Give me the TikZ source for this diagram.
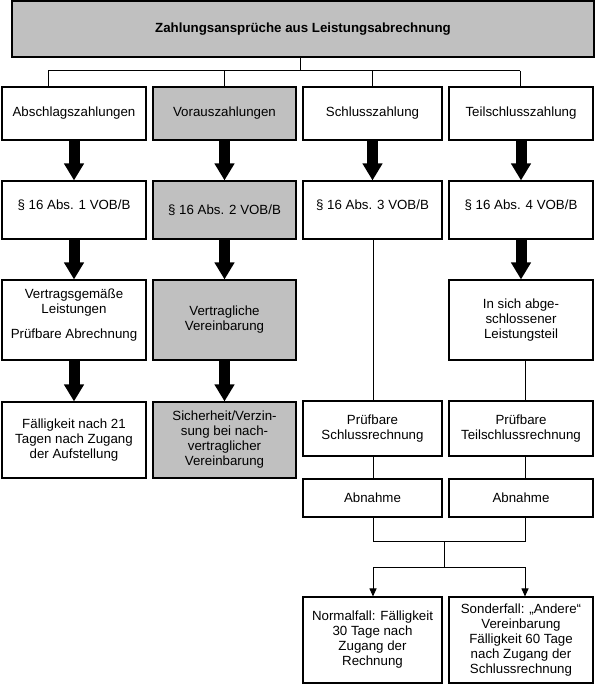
\documentclass[tikz,border=0pt]{standalone}
\usepackage{fontspec}
\setmainfont{Liberation Sans}
\usetikzlibrary{arrows.meta,calc}
\definecolor{boxgray}{RGB}{192,192,192}
\begin{document}
\begin{tikzpicture}[x=1bp,y=-1bp,
  font=\fontsize{13.3bp}{15bp}\selectfont,
  box/.style={draw=black, line width=1.1bp, align=center, inner sep=2bp, fill=white},
  greybox/.style={box, fill=boxgray},
  wA/.style={minimum width=144bp},
  wB/.style={minimum width=143bp},
  wC/.style={minimum width=139bp},
  big/.style={line width=11bp, -{Triangle[width=19bp,length=17bp]}},
  thinline/.style={line width=1bp},
  smalltip/.style={thinline, -{Triangle[width=7bp,length=8bp]}}
]
\useasboundingbox (0,0) rectangle (595,684);

% title
\node[greybox, minimum width=582bp, minimum height=56bp, font=\fontsize{13.3bp}{15bp}\selectfont\bfseries] (title) at (303,29) {Zahlungsansprüche aus Leistungsabrechnung};

% row 1
\node[box, wA, minimum height=53bp] (a1) at (74,113.5) {Abschlagszahlungen};
\node[greybox, wB, minimum height=53bp] (a2) at (224.5,113.5) {Vorauszahlungen};
\node[box, wC, minimum height=53bp] (a3) at (372.5,113.5) {Schlusszahlung};
\node[box, wA, minimum height=53bp] (a4) at (521,113.5) {Teilschlusszahlung};

% row 2
\node[box, wA, minimum height=58bp] (b1) at (74,210) {§ 16 Abs. 1 VOB/B\\[-5bp]\mbox{}};
\node[greybox, wB, minimum height=58bp] (b2) at (224.5,210) {§ 16 Abs. 2 VOB/B};
\node[box, wC, minimum height=58bp] (b3) at (372.5,210) {§ 16 Abs. 3 VOB/B\\[-5bp]\mbox{}};
\node[box, wA, minimum height=58bp] (b4) at (521,210) {§ 16 Abs. 4 VOB/B\\[-5bp]\mbox{}};

% row 3
\node[box, wA, minimum height=80bp] (c1) at (74,320) {Vertragsgemäße\\Leistungen\\[10bp]Prüfbare Abrechnung\\[-2bp]\mbox{}};
\node[greybox, wB, minimum height=80bp] (c2) at (224.5,320) {Vertragliche\\Vereinbarung};
\node[box, wA, minimum height=80bp] (c4) at (521,320) {In sich abge-\\schlossener\\Leistungsteil};

% row 4
\node[box, wA, minimum height=76bp] (d1) at (74,440) {Fälligkeit nach 21\\Tagen nach Zugang\\der Aufstellung};
\node[greybox, wB, minimum height=76bp] (d2) at (224.5,440) {Sicherheit/Verzin-\\sung bei nach-\\vertraglicher\\Vereinbarung};
\node[box, wC, minimum height=55bp] (e3) at (372.5,428.5) {Prüfbare\\Schlussrechnung};
\node[box, wA, minimum height=55bp] (e4) at (521,428.5) {Prüfbare\\Teilschlussrechnung};

% row 5
\node[box, wC, minimum height=38bp] (f3) at (372.5,498) {Abnahme};
\node[box, wA, minimum height=38bp] (f4) at (521,498) {Abnahme};

% row 6
\node[box, wC, minimum height=86bp] (g3) at (372.5,640) {Normalfall: Fälligkeit\\30 Tage nach\\Zugang der\\Rechnung};
\node[box, wA, minimum height=86bp] (g4) at (521,640) {Sonderfall: „Andere“\\Vereinbarung\\Fälligkeit 60 Tage\\nach Zugang der\\Schlussrechnung};

% tree from title
\coordinate (hub) at (300,71);
\coordinate (h1) at (48,71);
\coordinate (h2) at (224.5,71);
\coordinate (h3) at (372.5,71);
\coordinate (h4) at (520,71);
\draw[thinline] (title.south -| hub) -- (hub);
\draw[thinline] (h1) -- (h4);
\draw[thinline] (h1) -- (h1 |- a1.north);
\draw[thinline] (h2) -- (h2 |- a2.north);
\draw[thinline] (h3) -- (h3 |- a3.north);
\draw[thinline] (h4) -- (h4 |- a4.north);

% thick arrows
\draw[big] (a1.south) -- (b1.north);
\draw[big] (b1.south) -- (c1.north);
\draw[big] (c1.south) -- (d1.north);
\draw[big] (a2.south) -- (b2.north);
\draw[big] (b2.south) -- (c2.north);
\draw[big] (c2.south) -- (d2.north);
\draw[big] (a3.south) -- (b3.north);
\draw[big] (a4.south) -- (b4.north);
\draw[big] (b4.south) -- (c4.north);

% thin lines in columns 3 and 4
\coordinate (v3) at (373,0);
\coordinate (v4) at (525,0);
\draw[thinline] (b3.south -| v3) -- (e3.north -| v3);
\draw[thinline] (e3.south -| v3) -- (f3.north -| v3);
\draw[thinline] (c4.south -| v4) -- (e4.north -| v4);
\draw[thinline] (e4.south -| v4) -- (f4.north -| v4);

% joining and split
\coordinate (j3) at (373,541);
\coordinate (j4) at (525,541);
\coordinate (m1) at (444,541);
\coordinate (m2) at (444,567);
\coordinate (k3) at (373,567);
\coordinate (k4) at (525,567);
\draw[thinline] (f3.south -| j3) -- (j3) -- (j4) -- (f4.south -| j4);
\draw[thinline] (m1) -- (m2);
\draw[thinline] (k3) -- (k4);
\draw[smalltip] (k3) -- (g3.north -| k3);
\draw[smalltip] (k4) -- (g4.north -| k4);
\end{tikzpicture}
\end{document}
